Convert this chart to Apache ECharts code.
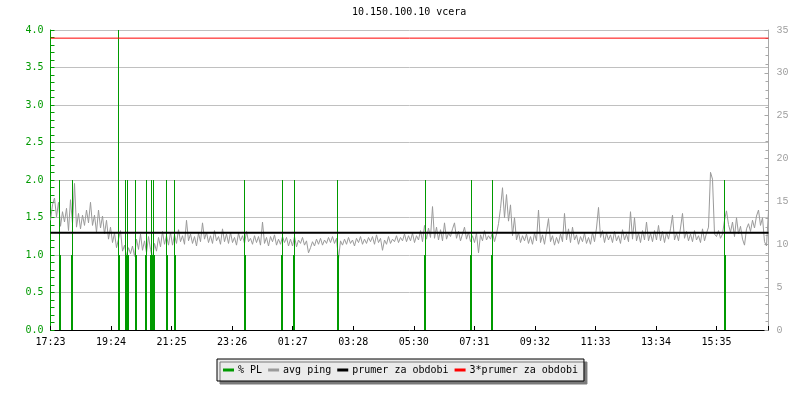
<!DOCTYPE html>
<html>
<head>
<meta charset="utf-8">
<script src="https://cdn.jsdelivr.net/npm/echarts@6/dist/echarts.min.js"></script>
<style>html,body{margin:0;padding:0;background:#fff;}#c{width:800px;height:400px;}</style>
</head>
<body>
<div id="c"></div>
<script>
// ---- data ----
const chartTitle = '10.150.100.10 vcera';
const seriesNames = ['% PL', 'avg ping', 'prumer za obdobi', '3*prumer za obdobi'];
// x tick labels (every ~121 min starting at 17:23)
const xTickLabels = ['17:23','19:24','21:25','23:26','01:27','03:28','05:30','07:31','09:32','11:33','13:34','15:35'];
const xTickStep = 121.1;   // minutes between labelled ticks
const xRangeMin = 1436;    // minutes shown
const pingStep = 4;        // minutes between ping samples
// avg ping in ms, one sample every 4 minutes from 17:23
const pingMs = [
12.8,14.6,15.4,13.2,14.9,12.1,13.8,12.6,14.2,11.6,15.2,12.4,17.1,12.0,13.6,11.8,13.4,12.2,14.0,12.5,
14.9,12.2,13.4,11.4,14.0,11.9,13.3,11.2,12.8,10.6,12.0,10.2,11.3,9.6,10.6,11.6,9.2,9.9,8.6,9.6,
8.9,9.8,8.6,10.6,9.4,11.2,9.3,10.4,9.0,10.9,9.4,8.3,10.1,9.2,10.8,9.7,11.5,10.0,11.0,9.9,
11.4,9.9,11.1,10.1,11.7,10.3,11.0,10.0,12.8,10.4,11.2,10.1,10.9,9.8,11.3,10.3,12.5,10.6,11.4,10.2,
11.0,10.1,11.6,10.4,10.9,10.0,11.8,10.3,11.2,10.1,11.4,10.2,10.8,9.9,11.3,10.4,11.0,10.1,11.5,10.3,
10.7,10.0,11.0,10.2,10.9,9.9,12.6,10.1,10.8,9.8,10.9,10.3,11.1,9.9,10.6,10.0,10.9,10.2,10.8,9.8,
10.6,9.8,10.9,9.7,10.5,10.1,10.8,9.9,10.4,9.0,9.6,10.3,9.8,10.6,10.0,10.7,9.9,10.5,10.1,10.8,
10.2,10.9,10.1,10.7,8.3,10.4,9.9,10.6,10.0,10.8,10.1,10.5,9.8,10.7,10.2,10.9,10.0,10.6,10.1,10.8,
10.3,10.9,10.0,11.1,10.2,10.7,9.3,10.5,10.0,10.9,10.1,10.6,10.3,11.0,10.2,10.8,10.4,11.2,10.3,11.0,
10.4,11.3,10.2,11.0,10.5,11.6,10.3,12.2,10.6,11.9,10.8,14.4,10.7,12.0,10.5,11.7,10.4,12.5,10.6,11.3,
10.9,11.8,12.5,10.7,11.5,10.4,11.2,12.0,10.6,11.4,10.3,11.0,10.2,11.3,9.0,11.1,10.4,11.6,10.5,11.0,
10.6,11.4,10.3,11.2,12.4,14.2,16.6,13.1,15.8,12.7,14.6,11.0,13.1,10.5,11.4,10.2,11.0,10.4,11.2,10.1,
10.9,10.0,11.3,10.4,14.0,10.2,11.1,10.0,11.5,13.0,10.3,11.0,9.9,10.8,10.1,11.2,10.3,13.6,10.5,11.8,
10.2,12.0,10.5,11.1,10.0,10.9,10.3,11.3,10.1,10.8,10.0,11.4,10.3,11.9,14.3,10.8,11.6,10.2,11.3,10.5,
11.1,10.2,11.5,10.4,11.0,10.1,11.7,10.5,11.2,10.3,13.8,10.6,13.1,10.4,11.3,10.2,11.6,10.5,12.6,10.4,
11.3,10.3,11.6,10.5,12.2,10.4,11.5,10.2,11.4,10.6,11.8,13.4,10.5,11.3,10.4,11.9,13.6,10.7,11.5,10.4,
11.2,10.3,11.6,10.5,11.0,10.2,11.8,10.4,11.3,12.0,18.4,17.6,11.2,10.9,11.6,10.7,11.2,12.8,13.9,12.3,
11.4,12.6,10.9,13.1,11.2,12.1,10.6,9.9,11.8,12.4,11.5,12.8,11.9,13.3,14.0,12.2,13.1,10.3,9.8,13.9
];
// packet loss samples (minutes after 17:23, % PL); all other samples are 0
const plMinutes = [18,20, 42,44, 136,138, 150,152,154,156, 170,172, 190,192, 200,202,204,206,208, 232,234, 248,250, 388,390, 462,464, 486,488, 574,576, 748,750, 840,842, 882,884, 1348,1350];
const plValues  = [2,1,   1,2,   4,1,     2,1,2,1,         2,1,     1,2,     1,2,1,2,1,           2,1,     2,1,     2,1,     1,2,     1,2,     2,1,     1,2,     1,2,     1,2,     2,1];
const meanPing = 11.35; // ms, "prumer za obdobi"
const leftTicks = {min: 0, max: 4, step: 0.5};
const rightTicks = {min: 0, max: 35, step: 5};

// ---- chart ----
const GREEN = '#009a00', GRAY = '#9a9a9a';
const mono = 'DejaVu Sans Mono';
const chart = echarts.init(document.getElementById('c'), null, {renderer: 'canvas'});
const pingData = pingMs.map((v, i) => [i * pingStep, v]);
const plData = plMinutes.map((m, i) => [m, plValues[i]]);
chart.setOption({
  animation: false,
  backgroundColor: '#ffffff',
  title: {text: chartTitle, left: 352, top: 7, padding: 0,
    textStyle: {fontFamily: mono, fontSize: 10, fontWeight: 'normal', color: '#000'}},
  legend: {
    data: seriesNames, left: 217, top: 359, padding: [6, 6],
    backgroundColor: '#ebebeb', borderColor: '#000', borderWidth: 1,
    shadowColor: '#7a7a7a', shadowOffsetX: 3, shadowOffsetY: 3, shadowBlur: 0,
    itemWidth: 11, itemHeight: 3, itemGap: 6, icon: 'rect',
    textStyle: {fontFamily: mono, fontSize: 10, color: '#000', padding: [0, 0, 0, -1]}
  },
  grid: {left: 50.5, top: 30, width: 718, height: 300, containLabel: false},
  xAxis: {
    type: 'value', min: 0, max: xRangeMin, interval: xTickStep,
    axisLine: {lineStyle: {color: '#000', width: 1}},
    axisTick: {inside: true, length: 4, lineStyle: {color: '#000'}},
    splitLine: {show: false},
    axisLabel: {margin: 7, fontFamily: mono, fontSize: 10, color: '#000',
      formatter: v => {const i = Math.round(v / xTickStep); return Math.abs(v - i * xTickStep) < 0.01 ? (xTickLabels[i] || '') : '';}}
  },
  yAxis: [{
    type: 'value', min: leftTicks.min, max: leftTicks.max, interval: leftTicks.step, position: 'left',
    axisLine: {show: true, lineStyle: {color: GREEN}},
    axisTick: {show: true, inside: true, length: 4, lineStyle: {color: GREEN}},
    minorTick: {show: true, splitNumber: 5, length: 4, lineStyle: {color: GREEN}},
    splitLine: {show: true, lineStyle: {color: '#c0c0c0', width: 1}},
    axisLabel: {margin: 7, fontFamily: mono, fontSize: 10, color: GREEN, formatter: v => v.toFixed(1)}
  }, {
    type: 'value', min: rightTicks.min, max: rightTicks.max, interval: rightTicks.step, position: 'right',
    axisLine: {show: true, lineStyle: {color: '#a8a8a8'}},
    axisTick: {show: true, inside: true, length: 4, lineStyle: {color: '#a8a8a8'}},
    minorTick: {show: true, splitNumber: 5, length: 3, lineStyle: {color: '#a8a8a8'}},
    splitLine: {show: false},
    axisLabel: {margin: 8, fontFamily: 'Liberation Mono', fontSize: 10, color: '#a0a0a0'}
  }],
  series: [
    {name: seriesNames[0], type: 'bar', yAxisIndex: 0, data: plData, barWidth: 1, z: 3,
      itemStyle: {color: GREEN}},
    {name: seriesNames[1], type: 'line', yAxisIndex: 1, data: pingData, showSymbol: false, symbol: 'none', z: 2,
      lineStyle: {color: GRAY, width: 1}, itemStyle: {color: GRAY}},
    {name: seriesNames[2], type: 'line', yAxisIndex: 1, data: [[0, meanPing], [xRangeMin, meanPing]], symbol: 'none', z: 4,
      lineStyle: {color: '#000', width: 2}, itemStyle: {color: '#000'}},
    {name: seriesNames[3], type: 'line', yAxisIndex: 1, data: [[0, 3 * meanPing], [xRangeMin, 3 * meanPing]], symbol: 'none', z: 4,
      lineStyle: {color: '#ff0000', width: 1}, itemStyle: {color: '#ff0000'}}
  ]
});
</script>
</body>
</html>
